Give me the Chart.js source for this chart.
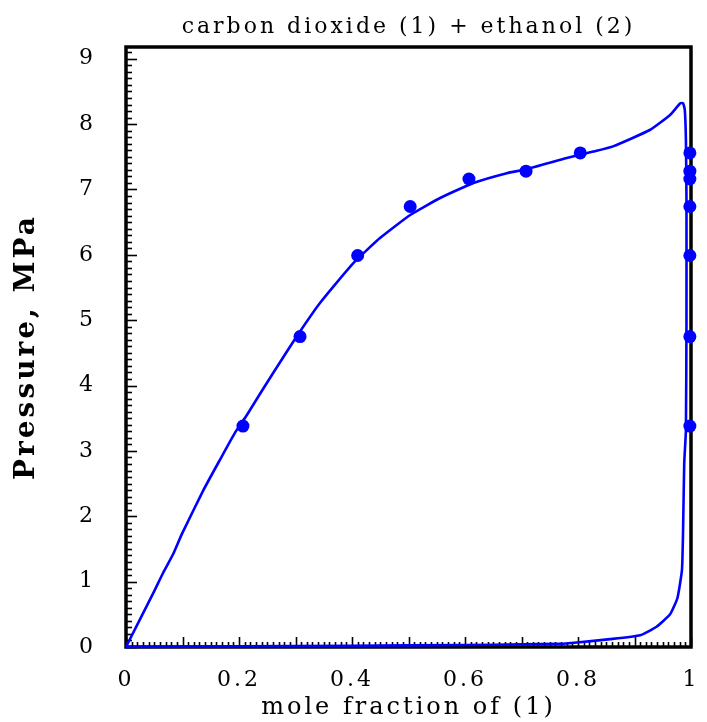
<!DOCTYPE html>
<html>
<head>
<meta charset="utf-8">
<script src="https://cdn.jsdelivr.net/npm/chart.js@4.4.1/dist/chart.umd.min.js"></script>
<style>
  html, body { margin: 0; padding: 0; background: #fff; }
  #wrap { width: 707px; height: 722px; }
</style>
</head>
<body>
<div id="wrap"><canvas id="c"></canvas></div>
<script>
// calculated phase envelope (bubble branch up, dew branch down, closed)
const curveX = [0.000, 0.048, 0.066, 0.084, 0.099, 0.137, 0.166, 0.193, 0.214, 0.237,
                0.261, 0.302, 0.343, 0.402, 0.450, 0.503, 0.556, 0.615, 0.674, 0.709,
                0.780, 0.827, 0.862, 0.927, 0.963, 0.981, 0.986, 0.989, 0.991, 0.992,
                0.992, 0.991, 0.988, 0.986, 0.984, 0.976, 0.963, 0.939, 0.910, 0.857,
                0.798, 0.768, 0.700, 0.600, 0.400, 0.200, 0.000];
const curveY = [0.00, 0.82, 1.14, 1.43, 1.73, 2.40, 2.86, 3.28, 3.55, 3.87,
                4.20, 4.75, 5.26, 5.87, 6.26, 6.61, 6.87, 7.10, 7.25, 7.31,
                7.48, 7.58, 7.66, 7.91, 8.14, 8.32, 8.32, 8.22, 7.76, 6.84,
                5.00, 3.32, 2.81, 1.79, 1.18, 0.75, 0.50, 0.31, 0.18, 0.12,
                0.07, 0.05, 0.04, 0.03, 0.02, 0.01, 0.00];

// experimental points: liquid phase
const liqX = [0.207, 0.308, 0.410, 0.503, 0.607, 0.708, 0.804];
const liqY = [3.38, 4.75, 5.99, 6.74, 7.16, 7.28, 7.56];
// experimental points: vapour phase
const vapX = [0.998, 0.998, 0.998, 0.998, 0.998, 0.998, 0.998];
const vapY = [3.38, 4.75, 5.99, 6.74, 7.16, 7.28, 7.56];

const xTickLabels = [0, 0.2, 0.4, 0.6, 0.8, 1];
const yTickLabels = [0, 1, 2, 3, 4, 5, 6, 7, 8, 9];

const BLUE = "#0000ff";
const SERIF = "'DejaVu Serif', serif";
const AREA = { left: 126, right: 691, top: 47, bottom: 647 };

const toPts = (xs, ys) => xs.map((x, i) => ({ x, y: ys[i] }));

// the original lettering is wide, spread it a little
const spacingPlugin = {
  id: "spacing",
  beforeUpdate(chart) { chart.ctx.letterSpacing = "3px"; },
  beforeDraw(chart) { chart.ctx.letterSpacing = "3px"; }
};

// frame + inward ticks, drawn under the data like the original
const framePlugin = {
  id: "frame",
  beforeDatasetsDraw(chart) {
    const { ctx, chartArea: a, scales: { x, y } } = chart;
    ctx.save();
    ctx.strokeStyle = "#000";
    ctx.lineCap = "butt";
    ctx.lineWidth = 1.6;
    // x ticks: 0.01 minor, 0.1 major
    for (let i = 0; i <= 100; i++) {
      const px = Math.round(x.getPixelForValue(i / 100)) + 0.5;
      const len = i % 10 === 0 ? 10 : 5;
      ctx.beginPath(); ctx.moveTo(px, a.bottom); ctx.lineTo(px, a.bottom - len); ctx.stroke();
    }
    // y ticks: 0.1 minor, 1 major
    for (let i = 0; i <= 91; i++) {
      const py = Math.round(y.getPixelForValue(i / 10)) + 0.5;
      const len = i % 10 === 0 ? 11 : 6;
      ctx.beginPath(); ctx.moveTo(a.left, py); ctx.lineTo(a.left + len, py); ctx.stroke();
    }
    ctx.lineWidth = 3.5;
    ctx.strokeRect(a.left, a.top, a.right - a.left, a.bottom - a.top);
    ctx.restore();
  }
};

new Chart(document.getElementById("c"), {
  type: "scatter",
  data: {
    datasets: [
      { label: "calc", data: toPts(curveX, curveY), showLine: true, borderColor: BLUE,
        borderWidth: 2.6, pointRadius: 0, tension: 0.15, clip: 8, order: 2 },
      { label: "liquid", data: toPts(liqX, liqY), pointRadius: 6.5, backgroundColor: BLUE,
        borderColor: BLUE, borderWidth: 0, clip: 10, order: 1 },
      { label: "vapour", data: toPts(vapX, vapY), pointRadius: 6.5, backgroundColor: BLUE,
        borderColor: BLUE, borderWidth: 0, clip: 10, order: 1 }
    ]
  },
  options: {
    responsive: true,
    maintainAspectRatio: false,
    animation: false,
    layout: { padding: { left: 0, right: 707 - AREA.right, top: 0, bottom: 0 } },
    plugins: {
      legend: { display: false },
      tooltip: { enabled: false },
      title: {
        display: true, fullSize: false,
        text: "carbon dioxide (1) + ethanol (2)",
        color: "#000",
        font: { family: SERIF, size: 22, weight: "normal", lineHeight: 1.2 },
        padding: { top: 14, bottom: AREA.top - 14 - 26.4 }
      }
    },
    scales: {
      x: {
        type: "linear", min: 0, max: 1,
        grid: { display: false, drawTicks: false },
        border: { display: false },
        afterBuildTicks: s => { s.ticks = xTickLabels.map(v => ({ value: v })); },
        afterFit: s => { s.height = 722 - AREA.bottom; s.paddingLeft = 0; s.paddingRight = 0; },
        ticks: { color: "#000", padding: 20, maxRotation: 0,
                 font: { family: SERIF, size: 22 }, callback: v => String(v) },
        title: { display: true, text: "mole fraction of (1)", color: "#000",
                 font: { family: SERIF, size: 24 }, padding: { top: 0, bottom: 0 } }
      },
      y: {
        type: "linear", min: 0, max: 9.18,
        grid: { display: false, drawTicks: false },
        border: { display: false },
        afterBuildTicks: s => { s.ticks = yTickLabels.map(v => ({ value: v })); },
        afterFit: s => { s.width = AREA.left; s.paddingTop = 0; s.paddingBottom = 0; },
        ticks: { color: "#000", padding: 30, font: { family: SERIF, size: 22 },
                 callback: v => String(v) },
        title: { display: true, text: "Pressure, MPa", color: "#000",
                 font: { family: SERIF, size: 28, weight: "bold" }, padding: { top: 10, bottom: 0 } }
      }
    }
  },
  plugins: [spacingPlugin, framePlugin]
});
</script>
</body>
</html>
